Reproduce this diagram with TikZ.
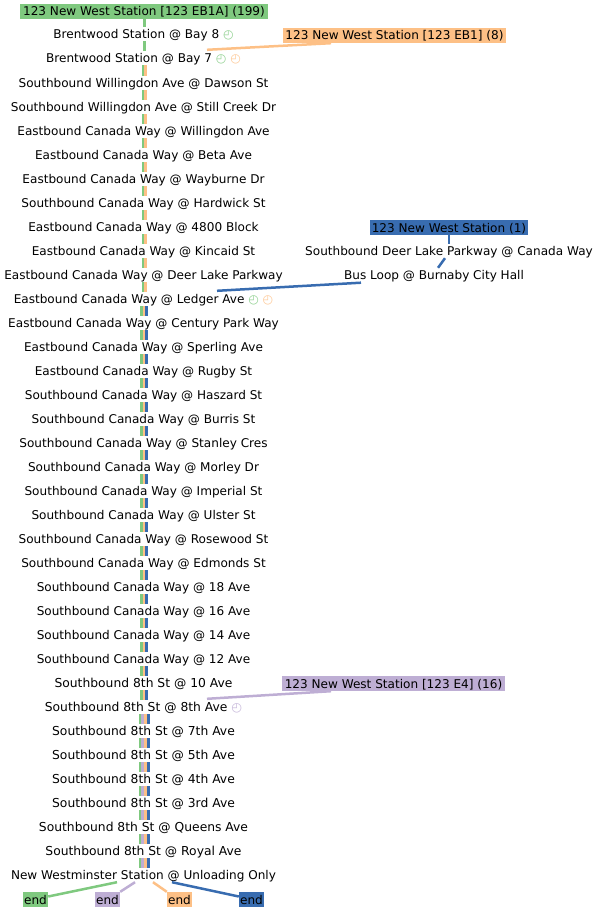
\documentclass[tikz,border=0pt]{standalone}
\usepackage{fontspec}
\setmainfont{DejaVu Sans}
\definecolor{cg}{HTML}{7FC97F}
\definecolor{cp}{HTML}{BEAED4}
\definecolor{co}{HTML}{FDC086}
\definecolor{cb}{HTML}{386CB0}
\newcommand{\clk}[1]{{\color{#1!85}◴}}
\newcommand{\wdr}{\fontsize{12.32pt}{14pt}\selectfont}
\tikzset{
 x=1pt,y=-1pt,
 stop/.style={font=\fontsize{12.07pt}{14pt}\selectfont,inner sep=0pt,minimum height=14pt,text height=11.5pt,text depth=2.5pt,anchor=center},
 tag/.style={stop,inner xsep=0pt,minimum height=15pt},
 seg/.style={line width=2.7pt},
 link/.style={line width=2.5pt}
}
\begin{document}
\begin{tikzpicture}
\useasboundingbox (0,0) rectangle (599,912);
\node[tag,fill=cg,minimum width=248pt] (t1) at (144,11.5) {123 New West Station [123 EB1A] (199)};
\node[tag,fill=co,minimum width=223pt] (t2) at (394.5,35.5) {123 New West Station [123 EB1] (8)};
\node[tag,fill=cb,minimum width=158pt] (t3) at (449,227.5) {123 New West Station (1)};
\node[tag,fill=cp,minimum width=223pt] (t4) at (393.5,683.5) {123 New West Station [123 E4] (16)};
\node[stop] (d1) at (449,251) {Southbound Deer Lake Parkway @ Canada Way};
\node[stop] (d2) at (434,275) {Bus Loop @ Burnaby City Hall};
\def\rows{%
34/Brentwood Station @ Bay 8 \clk{cg},%
58/Brentwood Station @ Bay 7 \clk{cg} \clk{co},%
83/Southbound Willingdon Ave @ Dawson St,%
107/Southbound Willingdon Ave @ Still Creek Dr,%
131/Eastbound Canada Way @ Willingdon Ave,%
155/Eastbound Canada Way @ Beta Ave,%
179/Eastbound Canada Way @ Wayburne Dr,%
203/Southbound Canada Way @ Hardwick St,%
227/Eastbound Canada Way @ 4800 Block,%
251/Eastbound Canada Way @ Kincaid St,%
275/Eastbound Canada Way @ Deer Lake Parkway,%
299/Eastbound Canada Way @ Ledger Ave \clk{cg} \clk{co},%
323/Eastbound Canada Way @ Century Park Way,%
347/Eastbound Canada Way @ Sperling Ave,%
371/Eastbound Canada Way @ Rugby St,%
395/Southbound Canada Way @ Haszard St,%
419/Southbound Canada Way @ Burris St,%
443/Southbound Canada Way @ Stanley Cres,%
467/Southbound Canada Way @ Morley Dr,%
491/Southbound Canada Way @ Imperial St,%
515/Southbound Canada Way @ Ulster St,%
539/Southbound Canada Way @ Rosewood St,%
563/Southbound Canada Way @ Edmonds St,%
587/Southbound Canada Way @ 18 Ave,%
611/Southbound Canada Way @ 16 Ave,%
635/Southbound Canada Way @ 14 Ave,%
659/Southbound Canada Way @ 12 Ave,%
683/\wdr Southbound 8th St @ 10 Ave,%
707/\wdr Southbound 8th St @ 8th Ave \clk{cp},%
731/\wdr Southbound 8th St @ 7th Ave,%
755/\wdr Southbound 8th St @ 5th Ave,%
779/\wdr Southbound 8th St @ 4th Ave,%
803/\wdr Southbound 8th St @ 3rd Ave,%
827/\wdr Southbound 8th St @ Queens Ave,%
851/\wdr Southbound 8th St @ Royal Ave,%
875/New Westminster Station @ Unloading Only}
\foreach \yy/\nm [count=\i] in \rows {\node[stop] (n\i) at (143.5,\yy) {\nm};}
\node[tag,fill=cg,minimum width=25pt] (e1) at (35.5,899.5) {end};
\node[tag,fill=cp,minimum width=25pt] (e2) at (107.5,899.5) {end};
\node[tag,fill=co,minimum width=25pt] (e3) at (179.5,899.5) {end};
\node[tag,fill=cb,minimum width=25pt] (e4) at (251.5,899.5) {end};
% trunk segments
\draw[seg,cg] (144.2,0 |- t1.south) -- (144.2,0 |- n1.north);
\draw[seg,cg] (144.2,0 |- n1.south) -- (144.2,0 |- n2.north);
\foreach \i [evaluate=\i as \j using int(\i+1)] in {2,...,11} {
 \draw[seg,cg] (142.9,0 |- n\i.south) -- (142.9,0 |- n\j.north);
 \draw[seg,co] (145.6,0 |- n\i.south) -- (145.6,0 |- n\j.north);
}
\foreach \i [evaluate=\i as \j using int(\i+1)] in {12,...,28} {
 \draw[seg,cg] (141.3,0 |- n\i.south) -- (141.3,0 |- n\j.north);
 \draw[seg,co] (144,0 |- n\i.south) -- (144,0 |- n\j.north);
 \draw[seg,cb] (146.7,0 |- n\i.south) -- (146.7,0 |- n\j.north);
}
\foreach \i [evaluate=\i as \j using int(\i+1)] in {29,...,35} {
 \draw[seg,cg] (140.1,0 |- n\i.south) -- (140.1,0 |- n\j.north);
 \draw[seg,cp] (142.8,0 |- n\i.south) -- (142.8,0 |- n\j.north);
 \draw[seg,co] (145.6,0 |- n\i.south) -- (145.6,0 |- n\j.north);
 \draw[seg,cb] (148.3,0 |- n\i.south) -- (148.3,0 |- n\j.north);
}
% branch links
\draw[link,co] ([xshift=-63.5pt]t2.south) -- ([xshift=63.5pt,yshift=1pt]n2.north);
\draw[link,cb] (t3.south) -- (d1.north);
\draw[link,cb] ([xshift=-4pt]d1.south) -- ([xshift=4pt]d2.north);
\draw[link,cb] ([xshift=-73pt,yshift=-.5pt]d2.south) -- ([xshift=73.5pt,yshift=1pt]n12.north);
\draw[link,cp] ([xshift=-62.5pt]t4.south) -- ([xshift=63.5pt,yshift=1pt]n29.north);
% ends
\draw[link,cg] ([xshift=-26.5pt]n36.south) -- ([yshift=3pt]e1.east);
\draw[link,cp] ([xshift=-8.5pt]n36.south) -- (e2.north east);
\draw[link,co] ([xshift=9.5pt]n36.south) -- (e3.north west);
\draw[link,cb] ([xshift=28.5pt]n36.south) -- ([yshift=3pt]e4.west);
\end{tikzpicture}
\end{document}
